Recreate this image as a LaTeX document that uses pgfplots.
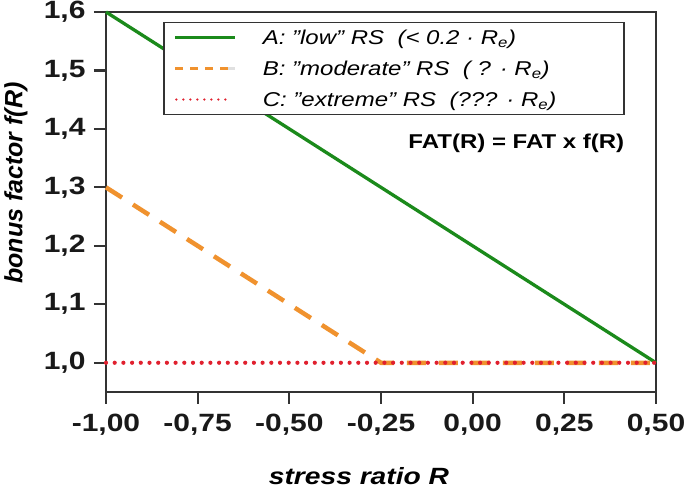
\documentclass[border=0pt]{standalone}
\usepackage{fontspec}
\setmainfont{Liberation Sans}[FakeStretch=1.2]
\newfontfamily\plainfont{Liberation Sans}
\usepackage{pgfplots}
\pgfplotsset{compat=1.18}
\definecolor{cgreen}{HTML}{1B8A1B}
\definecolor{corange}{HTML}{F0922E}
\definecolor{cred}{HTML}{E0202E}
\definecolor{caxis}{HTML}{333333}
\newcommand\q{\symbol{34}}
\begin{document}
\begin{tikzpicture}
\begin{axis}[
  name=ax,
  scale only axis,
  width=550pt, height=380pt,
  xmin=-1, xmax=0.5, ymin=0.95, ymax=1.6,
  axis line style={caxis, line width=2.2pt},
  every tick/.style={caxis, line width=2.2pt},
  tick align=outside,
  major tick length=12pt,
  xtick pos=left, ytick pos=left,
  xtick={-1,-0.75,-0.5,-0.25,0,0.25,0.5},
  xticklabels={{-1,00},{-0,75},{-0,50},{-0,25},{0,00},{0,25},{0,50}},
  ytick={1.0,1.1,1.2,1.3,1.4,1.5,1.6},
  yticklabels={{1,0},{1,1},{1,2},{1,3},{1,4},{1,5},{1,6}},
  ticklabel style={font=\bfseries\fontsize{25}{30}\selectfont, text=black!90},
  xticklabel style={yshift=-7pt},
  yticklabel style={xshift=-5pt},
  xlabel={stress ratio \textit{R}},
  ylabel={bonus factor \textit{f}(\textit{R})},
  xlabel style={font=\bfseries\itshape\fontsize{23.5}{28}\selectfont, at={(rel axis cs:0.46,0)}, anchor=center, yshift=-84pt},
  ylabel style={font=\plainfont\bfseries\itshape\fontsize{25}{30}\selectfont, at={(rel axis cs:0,0.55)}, anchor=center, xshift=0pt, yshift=90pt},
  legend style={at={(0.104,0.974)}, anchor=north west,
    draw=caxis, line width=1.3pt,
    font=\itshape\fontsize{20}{24}\selectfont,
    inner xsep=10pt, inner ysep=5pt, row sep=11pt, column sep=24pt,
    cells={anchor=west}},
  clip=false,
]
\addlegendimage{legend image code/.code={\draw[cgreen, line width=3pt] (0pt,0pt) -- (60pt,0pt);}}
\addlegendentry{\makebox[349pt][l]{A: \q low\q\ RS\ \ (< 0.2 · R\textsubscript{e})}}
\addlegendimage{legend image code/.code={\draw[corange, line width=3pt, dash pattern=on 8pt off 7pt] (0pt,0pt) -- (53pt,0pt);\draw[black!12, line width=3pt] (53pt,0pt) -- (60pt,0pt);}}
\addlegendentry{\makebox[349pt][l]{B: \q moderate\q\ RS\ \ ( ? · R\textsubscript{e})}}
\addlegendimage{legend image code/.code={\draw[cred, line width=2.5pt, line cap=round, dash pattern=on 0pt off 7pt] (1pt,0pt) -- (52pt,0pt);}}
\addlegendentry{\makebox[349pt][l]{C: \q extreme\q\ RS\ \ (??? · R\textsubscript{e})}}
\addplot[cgreen, line width=3.3pt, forget plot] coordinates {(-1,1.6) (0.5,1.0)};
\addplot[corange, line width=4.5pt, dash pattern=on 19pt off 13pt, forget plot] coordinates {(-1,1.3) (-0.25,1.0) (0.5,1.0)};
\addplot[cred, line width=4.2pt, line cap=round, dash pattern=on 0pt off 8.7pt, forget plot] coordinates {(-1,1.0) (0.5,1.0)};
\node[anchor=east, font=\bfseries\fontsize{20}{24}\selectfont] at (axis cs:0.423,1.375) {FAT(R) = FAT x f(R)};
\end{axis}
\pgfresetboundingbox
\path[use as bounding box] ([shift={(-106pt,-96pt)}]ax.south west) rectangle ([shift={(29pt,12pt)}]ax.north east);
\end{tikzpicture}
\end{document}
